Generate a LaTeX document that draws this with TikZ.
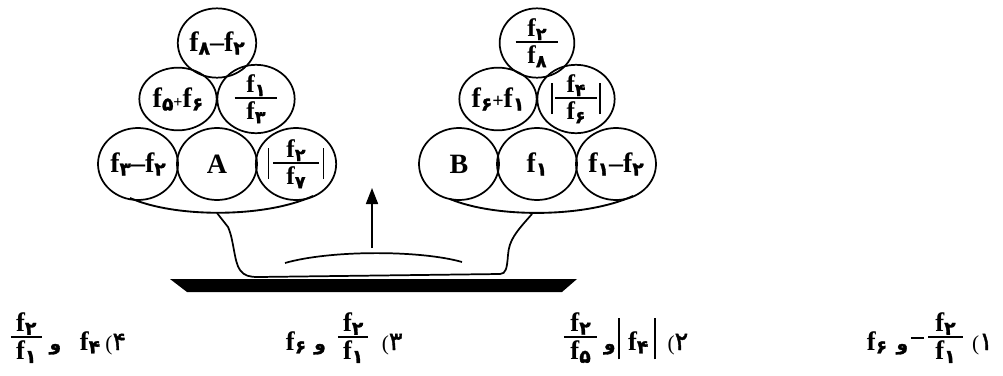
\documentclass[tikz,border=0pt]{standalone}
\usepackage{fontspec}
\setmainfont{Liberation Serif}
\newfontfamily\fadig[Script=Arabic,FakeBold=1.5]{DejaVu Sans}
\usetikzlibrary{shapes.geometric,arrows.meta}

\newcommand\dsz{14}
\newcommand\fs[1]{f\raisebox{-2.5pt}{\fontsize{\dsz}{\dsz}\fadig #1}}
\newcommand\fr[3][32pt]{$\vcenter{\hbox to#1{\hss#2\hss}\kern1pt\hrule height1.5pt\kern2pt\hbox to#1{\hss#3\hss}}$}
\newcommand\efr[3][32pt]{{\fontsize{19}{22}\selectfont\renewcommand\dsz{13}\fr[#1]{#2}{#3}}}
\newcommand\absbar{\vrule width1.3pt height16pt depth7pt}
\newcommand\vav{{\fontsize{14}{16}\fadig و}}
\newcommand\onum[1]{{\fontsize{16}{18}\selectfont\mdseries(\fontsize{19}{20}\fadig#1}}

\tikzset{
  ball/.style={draw, ellipse, line width=1.3pt, inner sep=0pt,
    minimum width=60pt, minimum height=54pt,
    font=\fontsize{21}{24}\selectfont\bfseries},
  ballmid/.style={ball, minimum width=58pt, minimum height=47pt},
  balltop/.style={ball, minimum width=56pt, minimum height=52pt},
  ans/.style={anchor=base west, inner sep=0pt,
    font=\fontsize{20}{24}\selectfont\bfseries}
}

\begin{document}
\begin{tikzpicture}[x=0.75pt,y=-0.75pt,>={Stealth[length=12pt,width=9pt,inset=0pt]},line width=1.4pt]
  \useasboundingbox (0,0) rectangle (1003,375);

  % left pan
  \node[balltop] (lt) at (217,43) {\fs{۸}--\fs{۲}};
  \node[ballmid] (lml) at (178,99) {\fs{۵}{\fontsize{12}{12}\selectfont+}\fs{۶}};
  \node[ballmid] (lmr) at (256,99) {\efr{\fs{۱}}{\fs{۳}}};
  \node[ball] (lbl) at (138,164) {\fs{۳}--\fs{۲}};
  \node[ball] (lbm) at (217,164) {A};
  \node[ball] (lbr) at (296,164) {\absbar\kern3pt\efr[34pt]{\fs{۲}}{\fs{۷}}\kern3pt\absbar};

  % right pan
  \node[balltop] (rt) at (537,43) {\efr{\fs{۲}}{\fs{۸}}};
  \node[ballmid] (rml) at (498,99) {\fs{۶}{\fontsize{15}{15}\selectfont+}\fs{۱}};
  \node[ballmid] (rmr) at (576,99) {\absbar\kern2pt\efr[31pt]{\fs{۴}}{\fs{۶}}\kern2pt\absbar};
  \node[ball] (rbl) at (459,164) {B};
  \node[ball] (rbm) at (537,164) {\fs{۱}};
  \node[ball] (rbr) at (616,164) {\fs{۱}--\fs{۲}};

  % dishes
  \draw (130,198) .. controls (175,218) and (265,218) .. (313,196);
  \draw (450,199) .. controls (495,218) and (585,218) .. (633,196);

  % stand
  \draw[line width=1.3pt] (217,213) -- (228,227) .. controls (234,240) and (234,262) .. (240,270)
    .. controls (244,276) and (250,277) .. (258,277) -- (500,274)
    .. controls (506,274) and (507,268) .. (508,255)
    .. controls (509,240) and (516,232) .. (532,214);
  \fill (170,279) -- (577,279) -- (562,292) -- (187,292) -- cycle;

  % arrow and bow
  \coordinate (ab) at (372,248);
  \coordinate (at) at (372,188);
  \draw[->,line width=1.3pt] (ab) -- (at);
  \draw[line width=1.3pt] (285,263) .. controls (330,250) and (420,250) .. (462,262);

  % answers
  \node[ans] (o4) at (10,350) {\raisebox{4pt}{\fr[23pt]{\fs{۲}}{\fs{۱}}}\hspace{6pt}\vav\hspace{14pt}\fs{۴}\hspace{4pt}\onum{۴}};
  \node[ans] (o3) at (285,350) {\fs{۶}\hspace{6pt}\vav\hspace{9pt}\raisebox{4pt}{\fr[23pt]{\fs{۲}}{\fs{۱}}}\hspace{10pt}\onum{۳}};
  \node[ans] (o2) at (563,350) {\raisebox{4pt}{\fr[25pt]{\fs{۲}}{\fs{۵}}}\hspace{5pt}\vav\hspace{2pt}\vrule width1.4pt height24pt depth7pt\hspace{6pt}\fs{۴}\hspace{4pt}\vrule width1.4pt height24pt depth7pt\hspace{9pt}\onum{۲}};
  \node[ans] (o1) at (866,350) {\fs{۶}\hspace{7pt}\vav\hspace{2pt}\rule[8.5pt]{10pt}{1.4pt}\hspace{3pt}\raisebox{4pt}{\fr[26pt]{\fs{۲}}{\fs{۱}}}\hspace{7pt}\onum{۱}};
\end{tikzpicture}
\end{document}
